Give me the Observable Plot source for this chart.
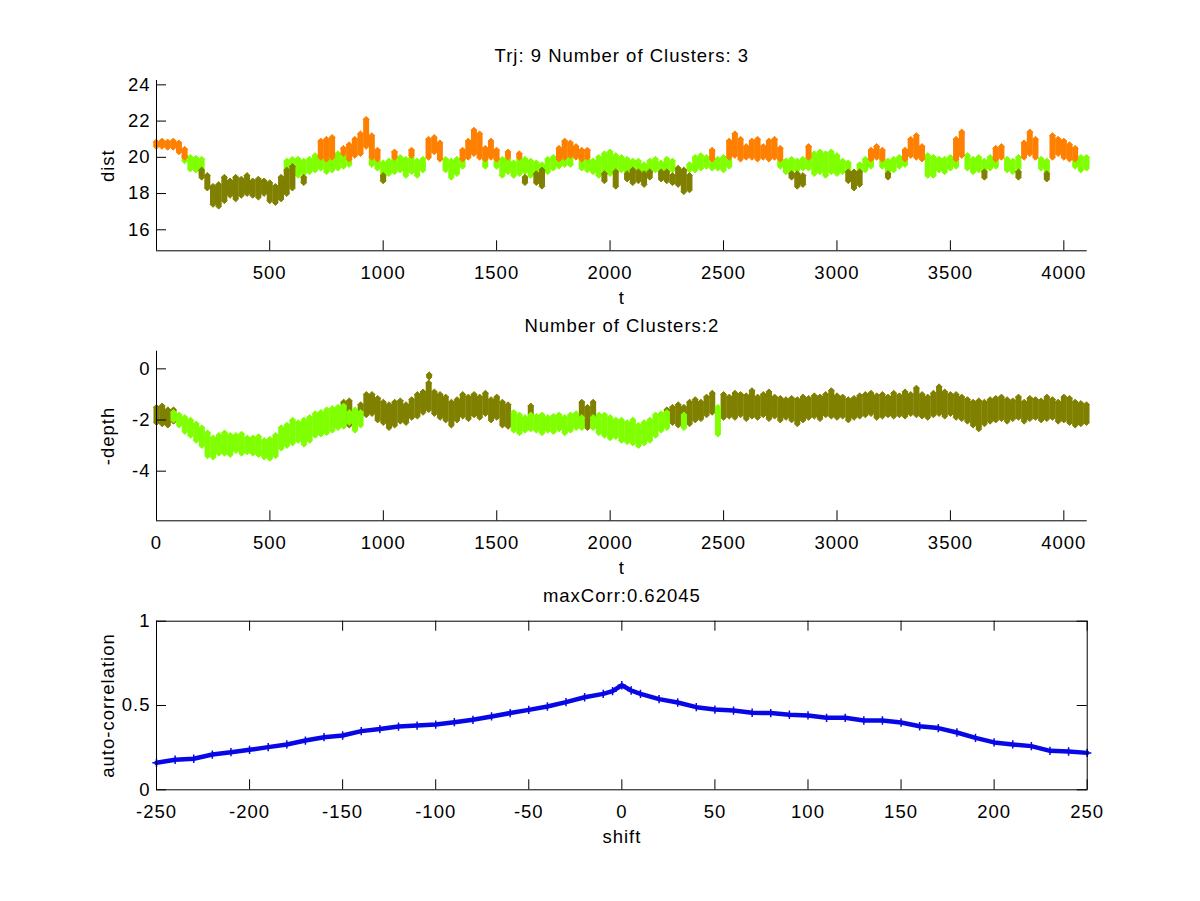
<!DOCTYPE html>
<html><head><meta charset="utf-8">
<script src="https://cdn.jsdelivr.net/npm/d3@7"></script>
<script src="https://cdn.jsdelivr.net/npm/@observablehq/plot@0.6"></script>
<style>
body{margin:0;background:#fff;}
#fig{position:relative;width:1200px;height:901px;background:#fff;overflow:hidden;}
#fig svg{position:absolute;left:0;top:0;}
</style></head><body><div id="fig"></div>
<script>
// ---------- Panel 1: dist, 3 clusters  [t, low, high] ----------
const distOrange = [
[0,20.6,20.85],[25,20.6,20.9],[50,20.55,20.85],[75,20.55,20.9],[100,20.3,20.8],[125,20.0,20.45],
[725,20.0,20.9],[750,19.9,21.0],[775,20.0,21.1],[825,20.2,20.5],[850,19.9,20.7],[875,20.1,21.0],[900,20.2,21.3],[925,20.6,22.1],[950,20.0,21.2],[975,19.9,20.4],
[1050,20.0,20.3],[1125,20.1,20.4],[1200,20.0,21.0],[1225,20.3,21.1],[1250,19.9,20.8],
[1350,19.9,20.4],[1375,20.0,20.9],[1400,20.2,21.5],[1425,20.0,21.3],[1450,19.9,20.5],[1475,20.0,20.9],[1500,19.9,20.4],
[1550,20.0,20.3],[1600,20.0,20.2],
[1775,19.9,20.5],[1800,20.0,20.9],[1825,20.1,20.8],[1850,20.0,20.6],[1875,19.9,20.4],[1900,20.0,20.4],
[2450,19.9,20.4],[2525,20.0,20.9],[2550,20.1,21.3],[2575,19.9,21.0],[2600,20.0,20.6],[2625,20.0,20.9],[2650,19.9,21.0],[2675,20.0,20.6],[2700,19.9,20.9],[2725,20.0,21.0],[2750,19.9,20.5],
[2875,20.0,20.6],
[3150,19.9,20.4],[3175,20.0,20.6],[3200,19.9,20.4],
[3300,19.9,20.4],[3325,20.1,21.0],[3350,20.0,21.2],[3375,19.9,20.6],
[3525,19.9,21.0],[3550,20.1,21.4],
[3700,19.9,20.5],[3725,20.0,20.6],
[3825,20.0,20.8],[3850,20.2,21.4],[3875,20.0,21.0],
[3950,20.0,21.2],[3975,20.2,21.0],[4000,20.0,20.9],[4025,19.9,20.7],[4050,19.9,20.5]
];
const distGreen = [
[125,19.8,20.1],[150,19.35,20.0],[175,19.3,19.95],[200,19.1,19.9],
[575,19.2,19.8],[600,19.3,19.9],[625,19.0,19.9],[650,19.1,19.8],[675,19.2,19.9],[700,19.3,20.1],[725,19.4,20.0],[750,19.2,19.8],[775,19.3,19.9],[800,19.4,20.2],[825,19.5,20.1],[850,19.6,19.9],
[950,19.6,20.0],[975,19.4,19.8],[1000,18.9,19.7],[1025,19.1,19.8],[1050,19.2,19.9],[1075,19.3,20.0],[1100,19.0,19.9],[1125,19.2,20.0],[1150,19.0,19.8],[1175,19.3,19.9],
[1275,19.3,19.9],[1300,18.9,19.8],[1325,19.1,19.9],[1350,19.5,19.9],[1450,19.5,19.9],[1500,19.5,19.9],[1525,19.0,19.9],[1550,19.2,19.9],[1575,19.0,19.7],[1600,19.1,19.9],[1625,19.2,19.9],[1650,19.0,19.8],[1675,19.2,19.7],[1700,19.3,19.6],[1725,19.2,19.9],[1750,19.4,20.0],[1775,19.5,19.9],[1800,19.6,19.9],[1825,19.6,20.0],[1875,19.4,19.9],[1900,19.3,19.9],[1925,19.2,19.8],[1950,19.0,20.0],[1975,19.2,20.2],[2000,19.1,20.3],[2025,19.3,20.1],[2050,19.3,20.0],[2075,19.2,19.9],[2100,19.3,19.8],[2125,19.3,19.8],[2150,19.2,19.6],[2175,19.2,19.8],[2200,19.3,19.9],[2225,19.3,19.7],[2250,19.2,19.9],[2275,19.3,19.8],
[2350,19.3,19.6],[2375,19.3,20.0],[2400,19.4,20.1],[2425,19.5,20.0],[2450,19.4,19.9],[2475,19.4,19.9],[2500,19.3,20.0],[2525,19.5,19.9],
[2750,19.5,19.9],[2775,19.2,19.8],[2800,19.1,19.9],[2825,19.3,19.8],[2850,19.4,19.9],[2875,19.4,19.9],[2900,19.1,20.2],[2925,19.2,20.3],[2950,19.0,20.2],[2975,19.2,20.3],[3000,19.1,20.1],[3025,19.2,19.8],[3050,19.3,19.7],[3100,19.3,19.6],[3125,19.3,19.9],[3150,19.5,19.9],[3200,19.5,19.9],[3225,19.2,19.8],[3250,19.3,19.9],[3275,19.5,20.0],[3300,19.6,19.9],
[3400,19.0,20.1],[3425,19.0,20.0],[3450,19.3,19.9],[3475,19.2,19.9],[3500,19.4,20.0],[3525,19.5,19.9],[3575,19.4,20.1],[3600,19.2,19.9],[3625,19.3,20.0],[3650,19.3,19.8],[3675,19.4,20.0],[3700,19.5,19.9],[3750,19.3,19.9],[3775,19.2,19.8],[3800,19.4,20.0],
[3900,19.4,19.9],[3925,19.2,19.8],[4050,19.5,19.9],[4075,19.3,20.0],[4100,19.4,20.0]
];
const distOlive = [
[200,18.9,19.3],[225,18.3,19.0],[250,17.4,18.4],[275,17.3,18.5],[300,17.6,18.9],[325,17.9,18.7],[350,17.7,18.9],[375,17.9,18.8],[400,18.0,19.0],[425,17.9,18.7],[450,17.8,18.8],[475,18.0,18.7],[500,17.6,18.6],[525,17.5,18.4],[550,17.7,18.9],[575,18.0,19.3],[600,18.3,19.5],[650,18.6,18.9],
[1000,18.7,19.0],[1625,18.6,18.9],[1675,18.6,19.1],[1700,18.4,19.3],
[1975,18.7,19.1],[2025,18.4,19.2],[2075,18.8,19.1],[2100,18.6,19.3],[2125,18.7,19.2],[2150,18.5,19.1],[2175,18.9,19.2],[2225,18.8,19.2],[2250,18.7,19.2],[2275,18.6,19.0],[2300,18.5,19.4],[2325,18.1,19.3],[2350,18.2,19.0],
[2800,18.9,19.1],[2825,18.4,19.1],[2850,18.5,19.0],[3050,18.7,19.2],[3075,18.3,19.2],[3100,18.5,19.2],[3225,18.9,19.1],[3650,18.9,19.2],[3800,18.9,19.2],[3925,18.8,19.1]
];

// ---------- Panel 2: -depth, 2 clusters  [t, high, low] ----------
const depthOlive = [
[0,-1.5,-2.1],[25,-1.45,-2.15],[50,-1.6,-2.2],[75,-1.6,-2.05],
[825,-1.3,-2.0],[850,-1.25,-2.2],[900,-1.4,-1.8],[925,-1.0,-1.8],[950,-1.0,-1.75],[975,-1.15,-2.0],[1000,-1.3,-2.1],[1025,-1.4,-2.3],[1050,-1.3,-2.2],[1075,-1.25,-2.05],[1100,-1.4,-2.1],[1125,-1.2,-1.9],[1150,-1.0,-1.85],[1175,-0.9,-1.7],[1200,-0.55,-1.6],[1202,-0.23,-0.32],[1225,-0.9,-1.75],[1250,-1.0,-1.9],[1275,-1.1,-2.0],[1300,-1.3,-2.2],[1325,-1.2,-2.0],[1350,-1.0,-1.85],[1375,-1.1,-1.95],[1400,-1.0,-1.8],[1425,-1.1,-1.9],[1450,-0.95,-1.75],[1475,-1.2,-2.0],[1500,-1.1,-1.9],[1525,-1.3,-2.2],[1550,-1.4,-2.25],
[1650,-1.45,-1.8],[1875,-1.3,-2.2],[1900,-1.5,-2.3],[1925,-1.3,-2.0],
[2250,-1.6,-2.0],[2275,-1.5,-2.1],[2300,-1.4,-2.2],[2325,-1.5,-1.9],[2350,-1.3,-2.15],[2375,-1.2,-2.0],[2400,-1.3,-1.95],[2425,-1.1,-1.8],[2450,-0.95,-1.7],
[2500,-1.0,-1.9],[2525,-1.1,-1.85],[2550,-0.95,-1.9],[2575,-1.0,-1.8],[2600,-1.05,-1.95],[2625,-0.85,-1.85],[2650,-1.1,-1.9],[2675,-1.0,-1.8],[2700,-0.9,-1.95],[2725,-1.1,-1.85],[2750,-1.15,-2.0],[2775,-1.2,-1.9],[2800,-1.15,-2.0],[2825,-1.2,-2.15],[2850,-1.1,-2.0],[2875,-1.15,-1.9],[2900,-1.05,-1.85],[2925,-1.1,-1.95],[2950,-1.0,-1.8],[2975,-0.85,-1.85],[3000,-1.05,-1.9],[3025,-1.1,-1.85],[3050,-1.2,-2.0],[3075,-1.15,-1.9],[3100,-1.05,-1.85],[3125,-1.0,-1.8],[3150,-0.95,-1.75],[3175,-1.05,-1.9],[3200,-1.0,-1.85],[3225,-1.1,-1.8],[3250,-0.95,-1.85],[3275,-1.05,-1.8],[3300,-0.9,-1.85],[3325,-1.0,-1.75],[3350,-0.75,-1.8],[3375,-1.0,-1.85],[3400,-1.1,-1.9],[3425,-0.95,-1.8],[3450,-0.7,-1.75],[3475,-0.9,-1.85],[3500,-1.0,-1.75],[3525,-1.0,-1.9],[3550,-1.1,-1.95],[3575,-1.2,-2.05],[3600,-1.3,-2.2],[3625,-1.25,-2.35],[3650,-1.3,-2.15],[3675,-1.2,-2.05],[3700,-1.15,-2.0],[3725,-1.1,-1.95],[3750,-1.2,-2.05],[3775,-1.25,-1.95],[3800,-1.1,-1.9],[3825,-1.3,-2.05],[3850,-1.15,-1.95],[3875,-1.2,-1.9],[3900,-1.25,-2.0],[3925,-1.1,-1.95],[3950,-1.2,-1.9],[3975,-1.3,-2.05],[4000,-1.1,-2.0],[4025,-1.15,-2.1],[4050,-1.3,-2.2],[4075,-1.35,-2.15],[4100,-1.4,-2.1]
];
const depthGreen = [
[75,-1.7,-2.0],[100,-1.8,-2.2],[125,-1.9,-2.45],[150,-2.0,-2.6],[175,-2.15,-2.8],[200,-2.3,-3.0],[225,-2.5,-3.4],[250,-2.7,-3.45],[275,-2.6,-3.3],[300,-2.5,-3.3],[325,-2.6,-3.35],[350,-2.6,-3.2],[375,-2.55,-3.3],[400,-2.7,-3.25],[425,-2.7,-3.3],[450,-2.65,-3.35],[475,-2.8,-3.45],[500,-2.75,-3.5],[525,-2.6,-3.4],[550,-2.3,-3.1],[575,-2.2,-3.0],[600,-2.0,-2.9],[625,-2.1,-2.8],[650,-2.0,-2.95],[675,-1.9,-2.8],[700,-1.75,-2.6],[725,-1.7,-2.55],[750,-1.6,-2.5],[775,-1.55,-2.4],[800,-1.5,-2.3],[825,-1.45,-2.25],[850,-1.7,-2.1],[875,-1.6,-2.4],[900,-1.7,-2.2],
[1575,-1.7,-2.4],[1600,-1.8,-2.5],[1625,-1.9,-2.4],[1650,-1.8,-2.35],[1675,-1.85,-2.4],[1700,-1.8,-2.5],[1725,-1.9,-2.4],[1750,-1.85,-2.45],[1775,-1.8,-2.35],[1800,-1.9,-2.5],[1825,-1.8,-2.4],[1850,-1.75,-2.3],[1875,-1.9,-2.3],[1925,-1.9,-2.3],[1950,-1.8,-2.5],[1975,-1.8,-2.6],[2000,-1.9,-2.7],[2025,-2.0,-2.65],[2050,-2.0,-2.8],[2075,-2.1,-2.85],[2100,-2.0,-2.9],[2125,-2.2,-3.0],[2150,-2.1,-2.9],[2175,-2.0,-2.8],[2200,-1.8,-2.6],[2225,-1.75,-2.4],[2250,-1.7,-2.3],[2325,-1.8,-2.3],[2475,-1.5,-2.55]
];

// ---------- Panel 3: auto-correlation ----------
const shift = [-250,-240,-230,-220,-210,-200,-190,-180,-170,-160,-150,-140,-130,-120,-110,-100,-90,-80,-70,-60,-50,-40,-30,-20,-10,-5,0,5,10,20,30,40,50,60,70,80,90,100,110,120,130,140,150,160,170,180,190,200,210,220,230,240,250];
const corr = [0.160,0.178,0.184,0.209,0.223,0.237,0.253,0.269,0.292,0.312,0.322,0.348,0.360,0.375,0.381,0.387,0.401,0.415,0.435,0.455,0.474,0.494,0.520,0.549,0.569,0.585,0.620,0.589,0.569,0.538,0.518,0.490,0.476,0.470,0.457,0.455,0.445,0.441,0.427,0.427,0.411,0.411,0.399,0.377,0.366,0.340,0.308,0.281,0.269,0.259,0.231,0.227,0.219];

// ---------- ticks & text ----------
const ticks1X = [500,1000,1500,2000,2500,3000,3500,4000];
const ticks1Y = [16,18,20,22,24];
const ticks2X = [0,500,1000,1500,2000,2500,3000,3500,4000];
const ticks2Y = [-4,-2,0];
const ticks3X = [-250,-200,-150,-100,-50,0,50,100,150,200,250];
const ticks3Y = [0,0.5,1];
const titles = ["Trj: 9 Number of Clusters: 3", "Number of Clusters:2", "maxCorr:0.62045"];
const xLabels = ["t", "t", "shift"];
const yLabels = ["dist", "-depth", "auto-correlation"];

const COL = {orange: "#ff8000", green: "#80ff00", olive: "#808000", blue: "#0808e6"};
const FONT = "'Liberation Sans', Arial, Helvetica, sans-serif";
const W = 1200, H = 901, ML = 156, MR = 113.3;

function toRows(arr) { return arr.map(([t, a, b]) => ({t, a, b})); }

function cloud(arr, color) {
  const data = toRows(arr);
  return [
    Plot.ruleX(data, {x: "t", y1: "a", y2: "b", stroke: color, strokeWidth: 6}),
    Plot.dot(data, {x: "t", y: "a", symbol: "diamond2", r: 2.6, fill: color, stroke: color, strokeWidth: 1}),
    Plot.dot(data, {x: "t", y: "b", symbol: "diamond2", r: 2.6, fill: color, stroke: color, strokeWidth: 1})
  ];
}

function panel({marginTop, marginBottom, xDomain, yDomain, xTicks, yTicks, marks, title, xLabel, yLabel, box}) {
  const fh = H - marginTop - marginBottom, fw = W - ML - MR;
  const fmt = d => String(d);
  const deco = box ? [
    Plot.frame({stroke: "#000"}),
    Plot.tickX(xTicks, {x: d => d, stroke: "#000", insetBottom: fh - 10}),
    Plot.tickY(yTicks, {y: d => d, stroke: "#000", insetLeft: fw - 10})
  ] : [
    Plot.ruleX([xDomain[0]], {stroke: "#000"}),
    Plot.ruleY([yDomain[0]], {stroke: "#000"})
  ];
  return Plot.plot({
    width: W, height: H, marginLeft: ML, marginRight: MR, marginTop, marginBottom,
    x: {domain: xDomain, label: null},
    y: {domain: yDomain, label: null},
    style: {background: "transparent", overflow: "visible", fontFamily: FONT, fontSize: "18.5px", letterSpacing: "1px", color: "#000"},
    marks: [
      ...marks,
      ...deco,
      Plot.tickX(xTicks, {x: d => d, stroke: "#000", insetTop: fh - 10}),
      Plot.tickY(yTicks, {y: d => d, stroke: "#000", insetRight: fw - 10}),
      Plot.axisX({ticks: xTicks, tickSize: 0, tickPadding: 15, tickFormat: fmt, label: null}),
      Plot.axisY({ticks: yTicks, tickSize: 0, tickPadding: 6, tickFormat: fmt, label: null}),
      Plot.text([title], {text: d => d, frameAnchor: "top", textAnchor: "middle", dy: -19, lineAnchor: "bottom", fill: "#000"}),
      Plot.text([xLabel], {text: d => d, frameAnchor: "bottom", textAnchor: "middle", dy: 53.5, lineAnchor: "bottom", fill: "#000"}),
      Plot.text([yLabel], {text: d => d, frameAnchor: "left", textAnchor: "middle", dx: -43, rotate: -90, lineAnchor: "bottom", fill: "#000"})
    ]
  });
}

const fig = document.getElementById("fig");

fig.appendChild(panel({
  marginTop: 80, marginBottom: H - 250.3,
  xDomain: [1, 4103], yDomain: [14.84, 24.24],
  xTicks: ticks1X, yTicks: ticks1Y,
  marks: [...cloud(distGreen, COL.green), ...cloud(distOlive, COL.olive), ...cloud(distOrange, COL.orange)],
  title: titles[0], xLabel: xLabels[0], yLabel: yLabels[0], box: false
}));

fig.appendChild(panel({
  marginTop: 350.7, marginBottom: H - 520.3,
  xDomain: [0, 4103], yDomain: [-5.94, 0.69],
  xTicks: ticks2X, yTicks: ticks2Y,
  marks: [...cloud(depthOlive, COL.olive), ...cloud(depthGreen, COL.green)],
  title: titles[1], xLabel: xLabels[1], yLabel: yLabels[1], box: false
}));

const acData = shift.map((s, i) => ({shift: s, corr: corr[i]}));
fig.appendChild(panel({
  marginTop: 620.7, marginBottom: H - 789.3,
  xDomain: [-250, 250], yDomain: [0, 1],
  xTicks: ticks3X, yTicks: ticks3Y,
  marks: [
    Plot.line(acData, {x: "shift", y: "corr", stroke: COL.blue, strokeWidth: 4.5, strokeLinejoin: "round"}),
    Plot.dot(acData, {x: "shift", y: "corr", symbol: "plus", r: 2.8, stroke: COL.blue, strokeWidth: 1.5})
  ],
  title: titles[2], xLabel: xLabels[2], yLabel: yLabels[2], box: true
}));
</script>
</body></html>
